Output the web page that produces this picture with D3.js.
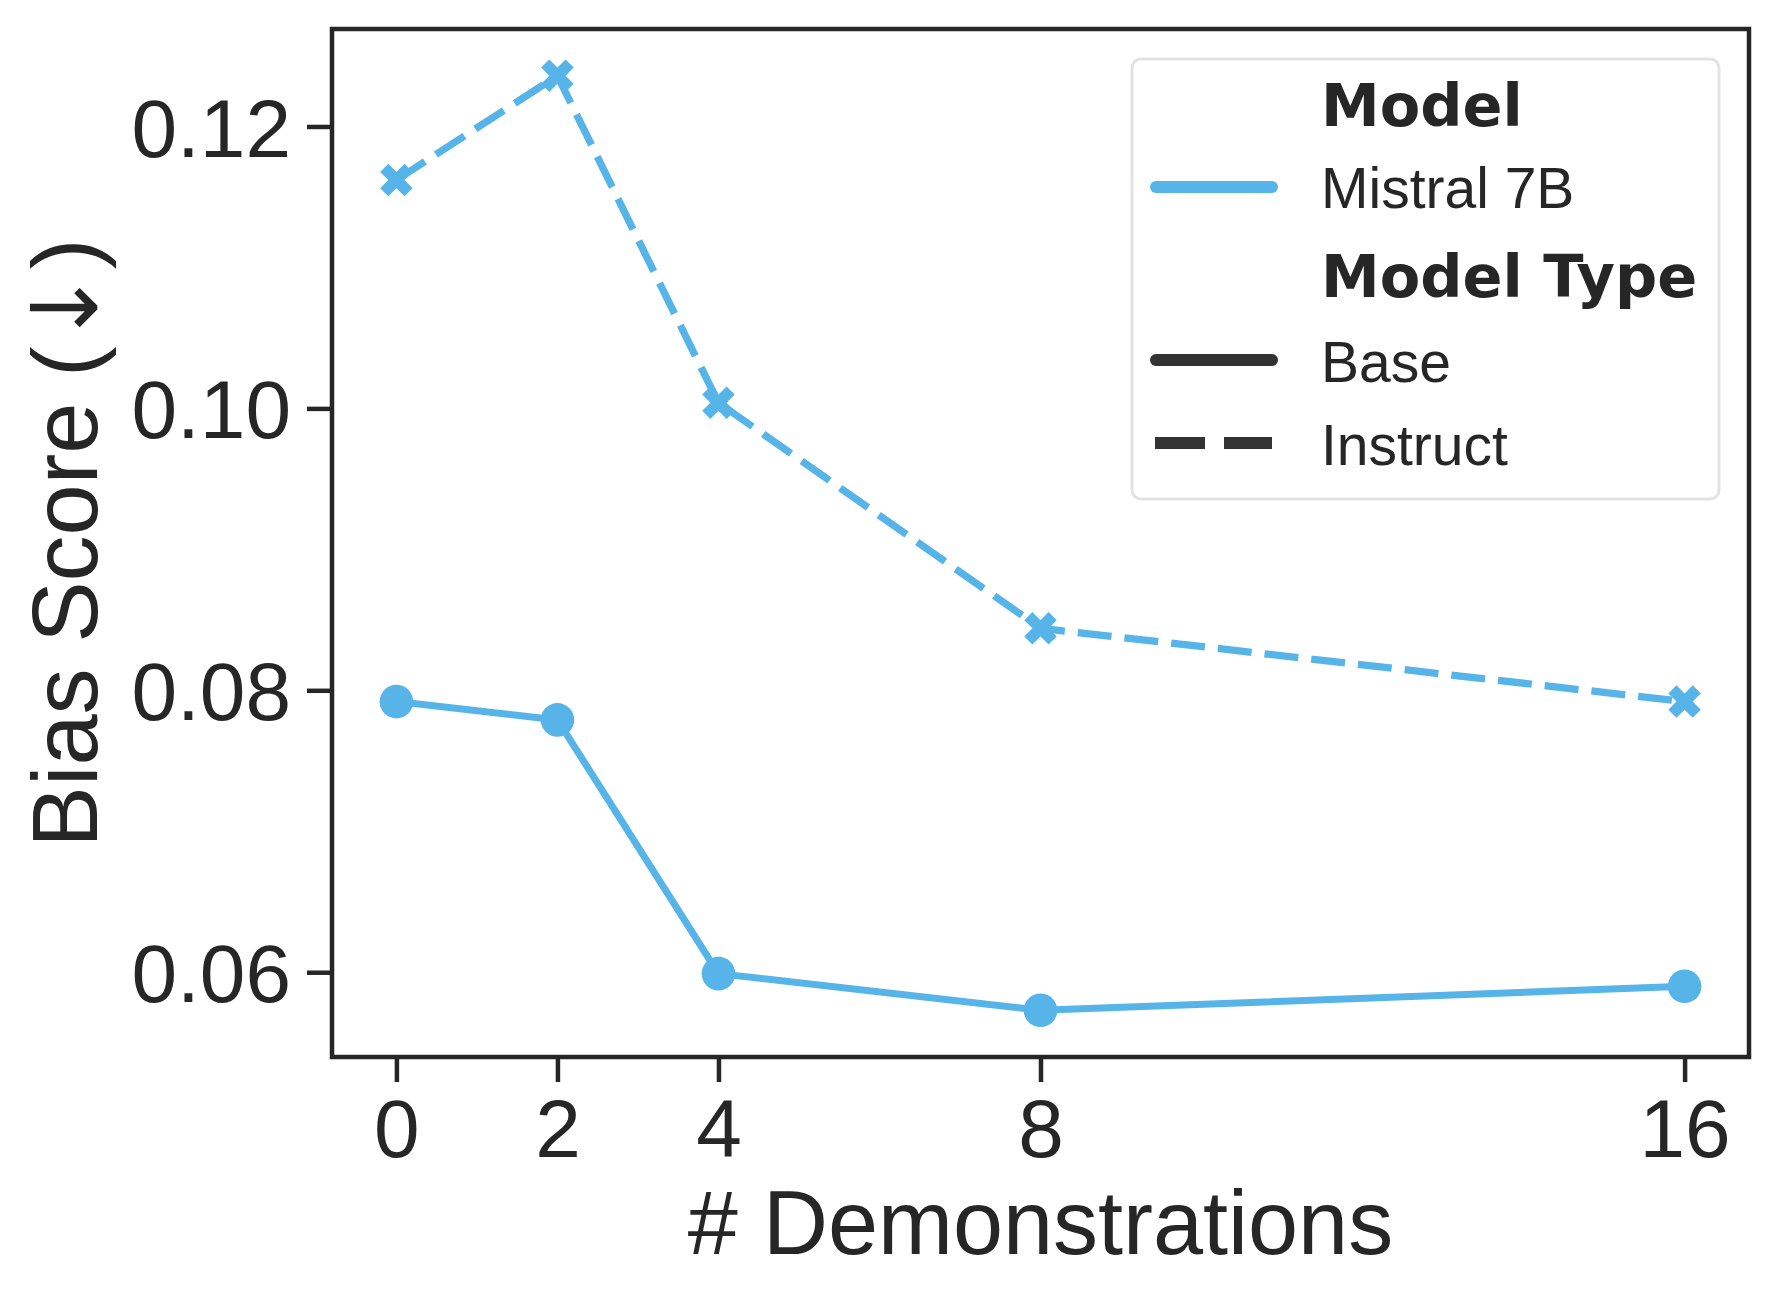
<!DOCTYPE html>
<html>
<head>
<meta charset="utf-8">
<script src="https://cdn.jsdelivr.net/npm/d3@7"></script>
<style>
  html, body { margin: 0; padding: 0; background: #fff; }
  svg { display: block; }
</style>
</head>
<body>
<svg id="chart" width="1777" height="1301"></svg>
<script>
// ---- data ----
const demos = [0, 2, 4, 8, 16];
const baseScores = [0.0792, 0.0779, 0.0599, 0.0573, 0.0590];
const instructScores = [0.1162, 0.1236, 0.1004, 0.0844, 0.0792];
const xTicks = [0, 2, 4, 8, 16];
const yTicks = [0.06, 0.08, 0.10, 0.12];
const modelNames = ["Mistral 7B"];
const modelTypes = ["Base", "Instruct"];
const xLabel = "# Demonstrations";
const yLabel = "Bias Score (";

// ---- layout ----
const W = 1777, H = 1301;
const plot = { left: 332, right: 1749, top: 29, bottom: 1057 };
const blue = "#56B4E9";
const ink = "#262626";
const sans = "'Liberation Sans', Arial, sans-serif";

const svg = d3.select("#chart");

function padded(ext) {
  const m = (ext[1] - ext[0]) * 0.05;
  return [ext[0] - m, ext[1] + m];
}
const x = d3.scaleLinear()
  .domain(padded(d3.extent(demos)))
  .range([plot.left, plot.right]);
const y = d3.scaleLinear()
  .domain(padded(d3.extent(baseScores.concat(instructScores))))
  .range([plot.bottom, plot.top]);

// ---- axes ----
const xAxis = svg.append("g")
  .attr("transform", `translate(0,${plot.bottom})`)
  .call(d3.axisBottom(x).tickValues(xTicks).tickFormat(d3.format("d"))
    .tickSize(25).tickPadding(16));
const yAxis = svg.append("g")
  .attr("transform", `translate(${plot.left},0)`)
  .call(d3.axisLeft(y).tickValues(yTicks).tickFormat(d3.format(".2f"))
    .tickSize(25).tickPadding(16));

[xAxis, yAxis].forEach(g => {
  g.select(".domain").remove();
  g.selectAll(".tick line").attr("stroke", ink).attr("stroke-width", 4.5);
  g.selectAll(".tick text")
    .attr("fill", ink)
    .style("font-family", sans)
    .style("font-size", "82px");
});
xAxis.selectAll(".tick text").attr("dy", "0.72em");
yAxis.selectAll(".tick text").attr("dy", "0.36em");

// ---- lines ----
const line = d3.line().x(d => x(d[0])).y(d => y(d[1]));
const baseData = demos.map((d, i) => [d, baseScores[i]]);
const instData = demos.map((d, i) => [d, instructScores[i]]);

svg.append("path").datum(baseData)
  .attr("d", line).attr("fill", "none")
  .attr("stroke", blue).attr("stroke-width", 7)
  .attr("stroke-linejoin", "round").attr("stroke-linecap", "round");

svg.append("path").datum(instData)
  .attr("d", line).attr("fill", "none")
  .attr("stroke", blue).attr("stroke-width", 7.3)
  .attr("stroke-dasharray", "34,13");

svg.selectAll("circle.base").data(baseData).enter()
  .append("circle").attr("class", "base")
  .attr("cx", d => x(d[0])).attr("cy", d => y(d[1]))
  .attr("r", 16.8).attr("fill", blue);

const xSym = d3.symbol().type(d3.symbolCross).size(660);
svg.selectAll("path.inst").data(instData).enter()
  .append("path").attr("class", "inst")
  .attr("d", xSym)
  .attr("transform", d => `translate(${x(d[0])},${y(d[1])}) rotate(45)`)
  .attr("fill", blue);

// ---- frame ----
svg.append("rect")
  .attr("x", plot.left).attr("y", plot.top)
  .attr("width", plot.right - plot.left).attr("height", plot.bottom - plot.top)
  .attr("fill", "none").attr("stroke", ink).attr("stroke-width", 4.5);

// ---- axis labels ----
svg.append("text")
  .attr("x", (plot.left + plot.right) / 2).attr("y", 1254)
  .attr("text-anchor", "middle").attr("fill", ink)
  .style("font-family", sans).style("font-size", "90px")
  .text(xLabel);

const yl = svg.append("text")
  .attr("transform", `translate(97,${(plot.top + plot.bottom) / 2}) rotate(-90)`)
  .attr("text-anchor", "middle").attr("fill", ink)
  .style("font-family", sans).style("font-size", "92px");
yl.append("tspan").text(yLabel);
yl.append("tspan").style("font-family", "'DejaVu Sans', sans-serif").text("\u2193");
yl.append("tspan").text(")");

// ---- legend ----
const lg = svg.append("g");
lg.append("rect")
  .attr("x", 1132).attr("y", 59).attr("width", 587).attr("height", 440)
  .attr("rx", 9).attr("ry", 9)
  .attr("fill", "#fff").attr("fill-opacity", 0.8)
  .attr("stroke", "#e3e3e3").attr("stroke-width", 3);

const textX = 1321;
const legendRows = [
  { label: "Model", head: true, baseline: 126 },
  { label: modelNames[0], baseline: 208, lineY: 187, color: blue, dash: null, cap: "round" },
  { label: "Model Type", head: true, baseline: 297 },
  { label: modelTypes[0], baseline: 382, lineY: 360, color: "#333333", dash: null, cap: "round" },
  { label: modelTypes[1], baseline: 465, lineY: 443, color: "#333333", dash: "50,19", cap: "butt" }
];
legendRows.forEach(r => {
  lg.append("text")
    .attr("x", textX).attr("y", r.baseline).attr("fill", ink)
    .style("font-family", r.head ? "'DejaVu Sans', sans-serif" : sans)
    .style("font-weight", r.head ? "bold" : "normal")
    .style("font-size", r.head ? "59px" : "57px")
    .text(r.label);
  if (r.lineY !== undefined) {
    const x0 = r.cap === "round" ? 1156 : 1155;
    const x1 = 1272;
    lg.append("line")
      .attr("x1", x0).attr("x2", x1).attr("y1", r.lineY).attr("y2", r.lineY)
      .attr("stroke", r.color).attr("stroke-width", 12)
      .attr("stroke-linecap", r.cap)
      .attr("stroke-dasharray", r.dash);
  }
});
</script>
</body>
</html>
